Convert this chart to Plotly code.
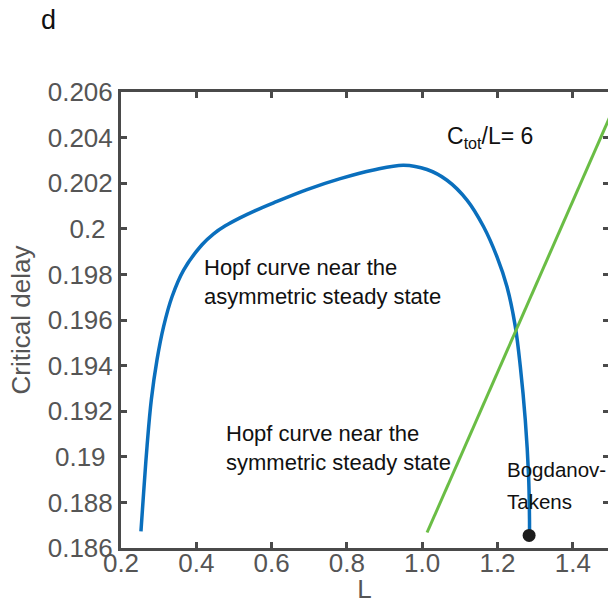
import plotly.graph_objects as go

# Hopf bifurcation curve (critical delay vs L)
L_hopf = [0.253, 0.260, 0.2691, 0.2805, 0.2956, 0.3131, 0.3355, 0.3663, 0.4151,
          0.4460, 0.4770, 0.5160, 0.5567, 0.6053, 0.6940, 0.7825, 0.8709, 0.9506,
          1.0128, 1.0659, 1.1190, 1.1631, 1.1987, 1.2252, 1.2473, 1.2606, 1.2738,
          1.2826, 1.2850, 1.2850]
tau_hopf = [0.18673, 0.18841, 0.19045, 0.19250, 0.19425, 0.19571, 0.19702, 0.19819,
            0.19930, 0.19978, 0.20013, 0.20048, 0.20080, 0.20114, 0.20172, 0.20220,
            0.20258, 0.20279, 0.20260, 0.20213, 0.20126, 0.20009, 0.19877, 0.19746,
            0.19571, 0.19396, 0.19162, 0.18914, 0.18724, 0.18660]

# Line C_tot/L = 6
L_ratio = [1.013, 1.50]
tau_ratio = [0.18668, 0.20497]

# Bogdanov-Takens point
L_bt = [1.284]
tau_bt = [0.18655]

x_tickvals = [0.2, 0.4, 0.6, 0.8, 1.0, 1.2, 1.4]
x_ticktext = ["0.2", "0.4", "0.6", "0.8", "1.0", "1.2", "1.4"]
y_tickvals = [0.186, 0.188, 0.19, 0.192, 0.194, 0.196, 0.198, 0.2, 0.202, 0.204, 0.206]
y_ticktext = ["0.186", "0.188", "0.19\u00a0", "0.192", "0.194", "0.196", "0.198",
              "0.2\u00a0", "0.202", "0.204", "0.206"]

FONT = "Liberation Sans, Arial, Helvetica, sans-serif"
AXIS_COLOR = "#4a4a4a"
LABEL_COLOR = "#555555"

fig = go.Figure()
fig.add_trace(go.Scatter(x=L_hopf, y=tau_hopf, mode="lines",
                         line=dict(color="#0a6fbd", width=3.5, shape="spline", smoothing=1.0),
                         hoverinfo="skip"))
fig.add_trace(go.Scatter(x=L_ratio, y=tau_ratio, mode="lines",
                         line=dict(color="#6abd45", width=3), hoverinfo="skip"))
fig.add_trace(go.Scatter(x=L_bt, y=tau_bt, mode="markers",
                         marker=dict(color="#1c1c1c", size=13), hoverinfo="skip"))
# carrier for the right-hand tick marks
fig.add_trace(go.Scatter(x=[None], y=[None], yaxis="y2", hoverinfo="skip"))

common = dict(ticks="inside", ticklen=6, tickwidth=2.5, tickcolor=AXIS_COLOR,
              showgrid=False, zeroline=False,
              tickfont=dict(family=FONT, size=26, color=LABEL_COLOR))

fig.update_layout(
    width=608, height=604,
    margin=dict(l=121, r=0, t=92, b=56),
    plot_bgcolor="white", paper_bgcolor="white",
    showlegend=False,
    xaxis=dict(range=[0.2, 1.4935], tickvals=x_tickvals, ticktext=x_ticktext,
               showline=True, linewidth=3, linecolor=AXIS_COLOR, mirror="ticks",
               ticklabelstandoff=-10,
               title=dict(text="L", font=dict(family=FONT, size=26, color=LABEL_COLOR),
                          standoff=6),
               automargin=False, **common),
    yaxis=dict(range=[0.186, 0.206], tickvals=y_tickvals, ticktext=y_ticktext,
               showline=True, linewidth=3, linecolor=AXIS_COLOR, mirror=False,
               title=dict(text="Critical delay",
                          font=dict(family=FONT, size=26, color=LABEL_COLOR), standoff=10),
               automargin=False, **common),
    yaxis2=dict(range=[0.186, 0.206], tickvals=y_tickvals, overlaying="y", side="right",
                anchor="x", showline=False, showticklabels=False,
                ticks="inside", ticklen=5, tickwidth=2.5, tickcolor=AXIS_COLOR,
                showgrid=False, zeroline=False),
)

TEXT_FONT = dict(family=FONT, size=22, color="#111111")
fig.add_annotation(x=0.415, y=0.19768, xref="x", yref="y", xanchor="left", yanchor="middle",
                   align="left", showarrow=False,
                   text="Hopf curve near the<br>asymmetric steady state", font=TEXT_FONT)
fig.add_annotation(x=0.4727, y=0.19040, xref="x", yref="y", xanchor="left", yanchor="middle",
                   align="left", showarrow=False,
                   text="Hopf curve near the<br>symmetric steady state", font=TEXT_FONT)
fig.add_annotation(x=1.061, y=0.2040, xref="x", yref="y", xanchor="left", yanchor="middle",
                   align="left", showarrow=False,
                   text="C<sub>tot</sub>/L= 6", font=dict(family=FONT, size=23, color="#111111"))
BT_FONT = dict(family=FONT, size=20.5, color="#111111")
fig.add_annotation(x=1.2199, y=0.18943, xref="x", yref="y", xanchor="left", yanchor="middle",
                   showarrow=False, text="Bogdanov-", font=BT_FONT)
fig.add_annotation(x=1.2199, y=0.18803, xref="x", yref="y", xanchor="left", yanchor="middle",
                   showarrow=False, text="Takens", font=BT_FONT)
fig.add_annotation(x=-0.148, y=1.158, xref="paper", yref="paper", xanchor="center",
                   yanchor="middle", showarrow=False, text="d",
                   font=dict(family=FONT, size=27, color="#111111"))

fig.write_html("out.html")
